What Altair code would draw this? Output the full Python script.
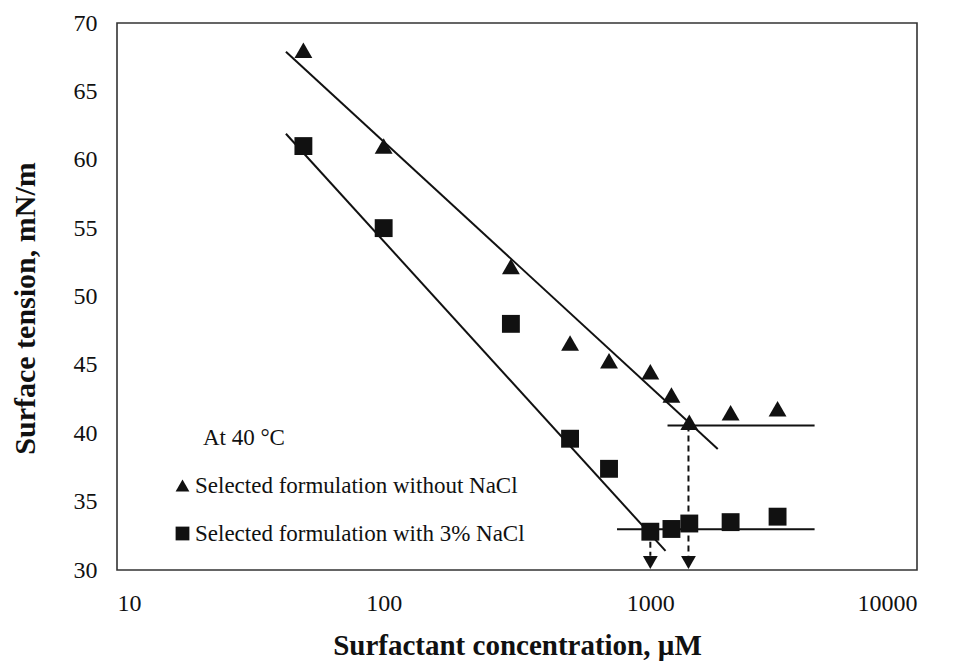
import altair as alt
import pandas as pd

# ---- data ----
conc = [50, 100, 300, 500, 700, 1000, 1200, 1400, 2000, 3000]
st_without_nacl = [68.0, 61.0, 52.2, 46.6, 45.3, 44.5, 42.8, 40.8, 41.5, 41.8]
st_with_nacl = [61.0, 55.0, 48.0, 39.6, 37.4, 32.8, 33.0, 33.4, 33.5, 33.9]
series_names = ["Selected formulation without NaCl", "Selected formulation with 3% NaCl"]

# fitted straight lines (two end points each)
seg_ids = ["slope_without", "slope_without", "slope_with", "slope_with",
           "plateau_without", "plateau_without", "plateau_with", "plateau_with"]
seg_x = [43, 1790, 43, 1140, 1160, 4130, 750, 4130]
seg_y = [67.9, 38.85, 61.9, 31.4, 40.56, 40.56, 32.98, 32.98]

# CMC markers (dashed drop lines with arrow heads)
cmc_x = [1000, 1390]
cmc_top = [32.8, 40.56]
cmc_base = [31.05, 31.05]
arrow_y = [30.55, 30.55]

annotation_text = ["At 40 °C"]
annotation_x = [21]
annotation_y = [39.14]

FONT = "Liberation Serif"
INK = "#111111"

pts = pd.DataFrame({
    "conc": conc + conc,
    "st": st_without_nacl + st_with_nacl,
    "series": [series_names[0]] * len(conc) + [series_names[1]] * len(conc),
})
segs = pd.DataFrame({"seg": seg_ids, "x": seg_x, "y": seg_y})
cmc = pd.DataFrame({"x": cmc_x, "top": cmc_top, "base": cmc_base, "arrow": arrow_y})
ann = pd.DataFrame({"text": annotation_text, "x": annotation_x, "y": annotation_y})

x_scale = alt.Scale(type="log", domain=[10, 10000])
y_scale = alt.Scale(domain=[30, 70])

x_axis = alt.Axis(
    values=[10, 100, 1000, 10000], format="d",
    title="Surfactant concentration, µM",
    grid=False, ticks=False, tickSize=0, domain=False,
    labelFont=FONT, labelFontSize=24, labelColor=INK, labelPadding=21,
    titleFont=FONT, titleFontSize=29, titleFontWeight="bold", titleColor=INK,
    titleX=400, titleY=84, titleBaseline="alphabetic",
)
y_axis = alt.Axis(
    values=[30, 35, 40, 45, 50, 55, 60, 65, 70],
    title="Surface tension, mN/m",
    grid=False, ticks=False, tickSize=0, domain=False,
    labelFont=FONT, labelFontSize=24, labelColor=INK, labelPadding=20,
    titleFont=FONT, titleFontSize=30, titleFontWeight="bold", titleColor=INK,
    titleX=-92, titleY=285, titleBaseline="middle", titleAlign="center",
)

lines = alt.Chart(segs).mark_line(color=INK, strokeWidth=2).encode(
    x=alt.X("x:Q", scale=x_scale, axis=x_axis),
    y=alt.Y("y:Q", scale=y_scale, axis=y_axis),
    detail="seg:N",
)

drops = alt.Chart(cmc).mark_rule(color=INK, strokeWidth=2, strokeDash=[6, 4]).encode(
    x=alt.X("x:Q", scale=x_scale),
    y=alt.Y("top:Q", scale=y_scale),
    y2="base:Q",
)

arrows = alt.Chart(cmc).mark_point(shape="triangle-down", filled=True, size=220,
                                   color=INK, opacity=1).encode(
    x=alt.X("x:Q", scale=x_scale),
    y=alt.Y("arrow:Q", scale=y_scale),
)

points = alt.Chart(pts).mark_point(filled=True, size=320, color=INK, opacity=1).encode(
    x=alt.X("conc:Q", scale=x_scale),
    y=alt.Y("st:Q", scale=y_scale),
    shape=alt.Shape(
        "series:N",
        scale=alt.Scale(domain=series_names, range=["triangle-up", "square"]),
        legend=alt.Legend(
            orient="none", legendX=54, legendY=451, title=None,
            labelFont=FONT, labelFontSize=23, labelColor=INK, labelOffset=1,
            symbolSize=190, symbolFillColor=INK, symbolStrokeWidth=0,
            rowPadding=24, padding=0, labelLimit=600,
        ),
    ),
)

note = alt.Chart(ann).mark_text(font=FONT, fontSize=23, color=INK, align="left",
                                baseline="alphabetic").encode(
    x=alt.X("x:Q", scale=x_scale),
    y=alt.Y("y:Q", scale=y_scale),
    text="text:N",
)

chart = alt.layer(lines, drops, arrows, points, note).properties(
    width=800, height=547,
    autosize=alt.AutoSizeParams(type="none"),
    padding={"left": 109, "top": 15, "right": 29, "bottom": 91},
    background="white",
).configure_view(stroke="#333333", strokeWidth=1.6)

chart.save("out.html", embed_options={"renderer": "svg", "actions": False})
